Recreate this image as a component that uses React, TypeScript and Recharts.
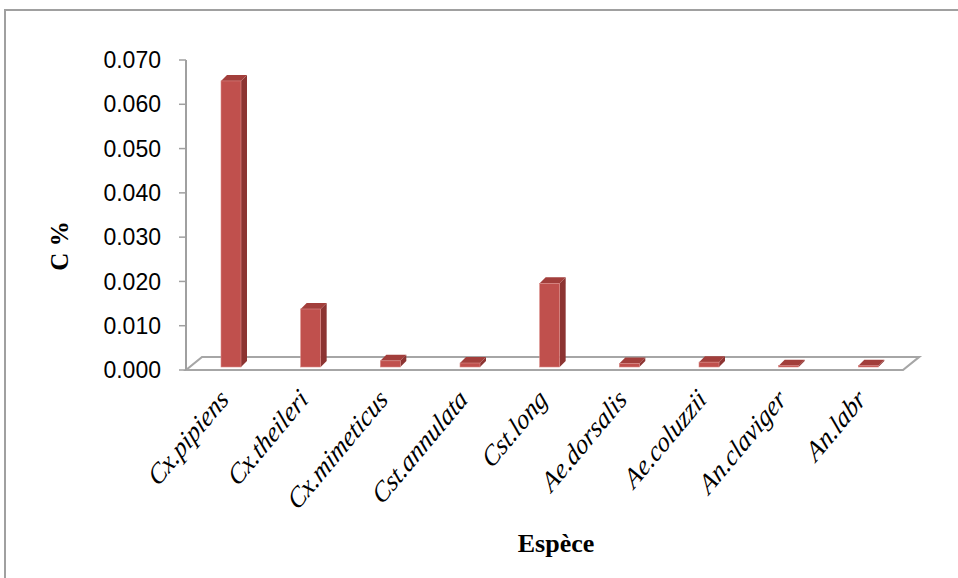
import React from 'react';
import { BarChart, Bar, XAxis, YAxis, ReferenceArea } from 'recharts';

const species = ['Cx.pipiens', 'Cx.theileri', 'Cx.mimeticus', 'Cst.annulata', 'Cst.long', 'Ae.dorsalis', 'Ae.coluzzii', 'An.claviger', 'An.labr'];
const cPercent = [0.0646, 0.0131, 0.0014, 0.0009, 0.0189, 0.0008, 0.0011, 0.0003, 0.0003];
const yTicks = [0, 0.01, 0.02, 0.03, 0.04, 0.05, 0.06, 0.07];

const data = species.map((s, i) => ({ name: s, value: cPercent[i] }));

const DX = 5;
const DY = -3;
const D = 6;

const Bar3D = (props: any) => {
  const { x, y, width, height } = props;
  if (x == null || y == null) return null;
  const fx = x + DX;
  const fy = y + DY;
  const w = width;
  const h = Math.max(height, 0.5);
  return (
    <g>
      <polygon
        points={`${fx + w},${fy} ${fx + w + D},${fy - D} ${fx + w + D},${fy + h - D} ${fx + w},${fy + h}`}
        fill="#8C3432"
      />
      <polygon
        points={`${fx},${fy} ${fx + D},${fy - D} ${fx + w + D},${fy - D} ${fx + w},${fy}`}
        fill="#A23E3B"
      />
      <rect x={fx} y={fy} width={w} height={h} fill="#C0504D" stroke="#D98A87" strokeWidth={0.6} />
    </g>
  );
};

const Floor = (props: any) => {
  const { x, y, width, height } = props;
  const by = y + height;
  const ox = 16;
  const oy = -13;
  return (
    <g fill="none" stroke="#A6A6A6" strokeWidth={2.2}>
      <polygon points={`${x},${by} ${x + ox},${by + oy} ${x + width + ox},${by + oy} ${x + width},${by}`} />
    </g>
  );
};

const XTick = (props: any) => {
  const { x, payload } = props;
  const ax = x + 4;
  const ay = 401;
  return (
    <g transform={`translate(${ax}, ${ay}) scale(1, 1.2) rotate(-45)`}>
      <text
        x={0}
        y={0}
        textAnchor="end"
        fontFamily="'Liberation Serif', 'Times New Roman', serif"
        fontStyle="italic"
        fontSize={24}
        fill="#000"
      >
        {payload.value}
      </text>
    </g>
  );
};

export default function App() {
  return (
    <div style={{ position: 'absolute', left: 0, top: 0, width: 958, height: 578, overflow: 'hidden', background: '#fff' }}>
      <div style={{ position: 'absolute', left: 4, top: 9, width: 1100, height: 1000, border: '2px solid #A0A0A0' }} />
      <div style={{ position: 'absolute', left: 0, top: 0 }}>
        <BarChart width={958} height={578} data={data} margin={{ top: 60, right: 55, bottom: 58, left: 66 }} barSize={20}>
          <ReferenceArea y1={0} y2={0.07} shape={Floor} ifOverflow="visible" />
          <XAxis
            dataKey="name"
            axisLine={false}
            tickLine={false}
            interval={0}
            height={150}
            tick={XTick}
            label={(p: any) => (
              <text
                x={556}
                y={552}
                textAnchor="middle"
                fontFamily="'Liberation Serif', 'Times New Roman', serif"
                fontWeight="bold"
                fontSize={26}
                fill="#000"
              >
                Espèce
              </text>
            )}
          />
          <YAxis
            width={120}
            domain={[0, 0.07]}
            ticks={yTicks}
            interval={0}
            tickFormatter={(v: number) => v.toFixed(3)}
            axisLine={{ stroke: '#A0A0A0', strokeWidth: 2 }}
            tickLine={{ stroke: '#A0A0A0', strokeWidth: 1.5 }}
            tickSize={7}
            tickMargin={18}
            tick={{ fill: '#000', fontSize: 23, fontFamily: "'Liberation Sans', Arial, sans-serif" }}
            label={(p: any) => (
              <text
                x={68}
                y={246}
                transform="rotate(-90, 68, 246)"
                textAnchor="middle"
                fontFamily="'Liberation Serif', 'Times New Roman', serif"
                fontWeight="bold"
                fontSize={25}
                fill="#000"
              >
                C %
              </text>
            )}
          />
          <Bar dataKey="value" shape={Bar3D} isAnimationActive={false} />
        </BarChart>
      </div>
    </div>
  );
}
